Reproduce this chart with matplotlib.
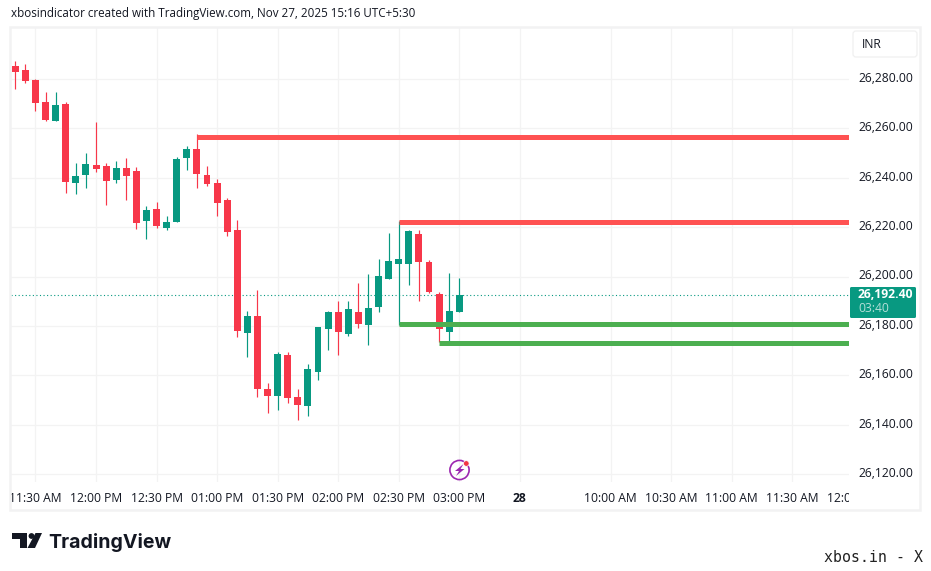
import matplotlib
matplotlib.use('Agg')
import matplotlib.pyplot as plt
from matplotlib.patches import Rectangle, FancyBboxPatch, Polygon, Circle
from matplotlib.transforms import Bbox, ScaledTranslation
import numpy as np

# 5 minute candles
opens = [26285.3, 26283.6, 26279.6, 26270.7, 26263.0, 26269.9, 26237.9, 26241.1, 26245.2,
         26244.8, 26239.1, 26244.0, 26242.7, 26222.5, 26227.4, 26219.7, 26222.1, 26248.0,
         26251.7, 26241.1, 26237.9, 26231.0, 26218.9, 26177.2, 26184.0, 26154.5, 26151.6,
         26168.2, 26151.2, 26147.6, 26161.4, 26178.8, 26185.7, 26176.8, 26185.7, 26180.4,
         26187.7, 26199.0, 26205.1, 26205.1, 26217.2, 26205.9, 26192.9, 26177.6, 26185.7]
highs = [26287.3, 26286.1, 26280.0, 26274.7, 26274.7, 26270.7, 26246.0, 26250.0, 26262.6,
         26246.0, 26246.8, 26248.0, 26244.4, 26228.6, 26230.2, 26224.5, 26248.4, 26252.9,
         26257.7, 26244.8, 26239.5, 26231.8, 26222.9, 26186.1, 26194.6, 26156.9, 26169.5,
         26169.5, 26154.5, 26164.6, 26179.6, 26186.1, 26190.1, 26190.1, 26197.4, 26201.1,
         26207.1, 26217.6, 26222.5, 26218.9, 26218.9, 26206.7, 26193.8, 26201.4, 26199.4]
lows = [26276.0, 26278.4, 26267.0, 26263.0, 26263.0, 26233.8, 26233.4, 26235.9, 26242.3,
        26229.0, 26237.9, 26231.0, 26219.3, 26215.2, 26219.7, 26218.9, 26222.1, 26243.2,
        26235.9, 26236.7, 26224.5, 26216.4, 26175.5, 26167.4, 26151.2, 26144.8, 26146.0,
        26148.8, 26141.9, 26143.6, 26158.1, 26170.3, 26168.2, 26175.9, 26179.2, 26172.3,
        26185.7, 26199.0, 26180.4, 26196.6, 26190.1, 26193.4, 26173.5, 26173.9, 26185.7]
closes = [26282.8, 26279.2, 26270.3, 26263.4, 26269.5, 26238.3, 26240.7, 26245.6, 26243.6,
          26238.7, 26244.0, 26240.7, 26221.7, 26227.0, 26220.5, 26222.1, 26247.6, 26251.7,
          26241.5, 26237.5, 26229.8, 26218.0, 26178.0, 26184.0, 26154.5, 26151.6, 26168.7,
          26150.8, 26148.0, 26162.6, 26179.6, 26185.7, 26177.6, 26186.9, 26180.8, 26187.3,
          26200.2, 26206.3, 26207.1, 26218.5, 26205.9, 26193.8, 26178.8, 26186.1, 26192.4]

last_price = 26192.4

# horizontal levels: price, candle they start from
red_levels = [26256.7, 26222.3]
red_starts = [18, 38]
green_levels = [26180.6, 26173.3]
green_starts = [38, 42]

price_ticks = [26280, 26260, 26240, 26220, 26200, 26180, 26160, 26140, 26120]
time_tick_pos = [2, 8, 14, 20, 26, 32, 38, 44, 50, 59, 65, 71, 77]
time_tick_labels = ['11:30 AM', '12:00 PM', '12:30 PM', '01:00 PM', '01:30 PM', '02:00 PM',
                    '02:30 PM', '03:00 PM', '28', '10:00 AM', '10:30 AM', '11:00 AM',
                    '11:30 AM']
# this one falls past the right edge of the pane and gets cut
cut_tick_pos = 83
cut_tick_label = '12:00 PM'

UP = '#089981'
DOWN = '#F7374A'
GRID = '#F3F3F3'
TEXT = '#131722'
W, H = 931, 571

plt.rcParams['font.family'] = ['Open Sans', 'DejaVu Sans']
plt.rcParams['font.size'] = 8.7

fig = plt.figure(figsize=(W / 100, H / 100), dpi=100, facecolor='white')

# overlay in pixel coordinates for frame, logo and header
bg = fig.add_axes([0, 0, 1, 1], zorder=2)
bg.set_xlim(0, W)
bg.set_ylim(H, 0)
bg.axis('off')
bg.patch.set_alpha(0)
bg.add_patch(Rectangle((10, 27), 910, 483, fill=False, ec='#F2F2F3', lw=1.8))

# price pane, pixel box 11..849 x 28..482
L, R, T, B = 11, 849, 28, 482
ax = fig.add_axes([L / W, 1 - B / H, (R - L) / W, (B - T) / H], zorder=1)
ax.patch.set_alpha(0)
x0, dx = 15.3, 10.09
xlim = ((L - x0) / dx, (R - x0) / dx)
ylim = (26280 - (B - 79) * 0.4049, 26280 + (79 - T) * 0.4049)
for s in ax.spines.values():
    s.set_visible(False)

idx = np.arange(len(opens))
o, h, l, c = map(np.array, (opens, highs, lows, closes))
colors = [UP if cc >= oo else DOWN for oo, cc in zip(o, c)]
ax.vlines(idx, l, h, colors=colors, linewidth=0.85, zorder=3)
ax.bar(idx, np.abs(c - o), bottom=np.minimum(o, c), width=0.69, color=colors, linewidth=0, zorder=4)

ax.axhline(last_price, color=UP, linewidth=0.8, linestyle=(0, (1, 2.2)), zorder=2)

for lev, st in zip(red_levels, red_starts):
    ax.hlines(lev, st, xlim[1], color='#FF5252', linewidth=3.6, zorder=5)
for lev, st in zip(green_levels, green_starts):
    ax.hlines(lev, st, xlim[1], color='#4CAF50', linewidth=3.6, zorder=5)

ax.yaxis.tick_right()
ax.set_yticks(price_ticks)
ax.set_yticklabels([f'{v:,.2f}' for v in price_ticks], color=TEXT)
ax.tick_params(axis='y', length=0, pad=6.5)
ax.set_xticks(time_tick_pos)
ax.set_xticklabels(time_tick_labels, color=TEXT)
ax.tick_params(axis='x', length=0, pad=7.3)
ax.grid(True, color=GRID, linewidth=0.9, zorder=0)
ax.set_axisbelow(True)

ax.set_xlim(*xlim)
ax.set_ylim(*ylim)

# price labels sit a touch above their grid line
nudge = ScaledTranslation(0, 1.5 / 72, fig.dpi_scale_trans)
for lab in ax.get_yticklabels():
    lab.set_transform(lab.get_transform() + nudge)

for lab, txt in zip(ax.get_xticklabels(), time_tick_labels):
    if txt == '28':
        lab.set_fontweight('bold')

cut = ax.annotate(cut_tick_label, xy=(cut_tick_pos, ylim[0]), xytext=(0, -7.3), textcoords='offset points',
                  ha='center', va='top', color=TEXT, annotation_clip=False)
cut.set_clip_path(None)
cut.set_clip_box(Bbox.from_extents(0, 0, R, H))
cut.set_clip_on(True)

# header
bg.text(11, 14, 'xbosindicator created with TradingView.com, Nov 27, 2025 15:16 UTC+5:30',
        color=TEXT, fontsize=8.4, va='center', ha='left')

# currency box
bg.add_patch(FancyBboxPatch((855, 33), 60, 22, boxstyle='round,pad=2,rounding_size=3',
                            fc='white', ec='#F0F0F0', lw=0.9))
bg.text(862, 44, 'INR', color=TEXT, fontsize=8.7, va='center', ha='left')

# last price label
bg.add_patch(FancyBboxPatch((851, 288), 64, 29, boxstyle='round,pad=1,rounding_size=1.5',
                            fc=UP, ec=UP, lw=0, zorder=6))
bg.text(858, 295, f'{last_price:,.2f}', color='white', fontsize=8.7, fontweight='bold',
        va='center', ha='left', zorder=7)
bg.text(858, 309, '03:40', color='#B5DFD8', fontsize=8.7, va='center', ha='left', zorder=7)

# bolt icon under the last candle
bg.add_patch(Circle((459.5, 470), 9.6, fill=False, ec='#9C27B0', lw=1.2))
bg.add_patch(Polygon([(463.5, 464), (455, 471), (459, 471), (456, 476), (464.5, 469), (460.5, 469)],
                     closed=True, fc='#9C27B0', ec='none'))
bg.add_patch(Circle((466.3, 463.5), 2.8, fc='#F23645', ec='white', lw=0.5, zorder=5))

# TradingView logo
mark = '#131722'
bg.add_patch(Polygon([(12, 533), (27, 533), (27, 548), (19.5, 548), (19.5, 539), (12, 539)],
                     closed=True, fc=mark, ec='none'))
bg.add_patch(Circle((31.5, 536), 2.9, fc=mark, ec='none'))
bg.add_patch(Polygon([(35.5, 533), (42, 533), (35, 548), (27.5, 548)], closed=True, fc=mark, ec='none'))
bg.text(48, 542, 'TradingView', color=mark, fontsize=14.1, fontweight='bold', va='center', ha='left',
        family=['Inter', 'DejaVu Sans'])

bg.text(824, 557, 'xbos.in - X', color='#222222', fontsize=10.7, va='center', ha='left',
        family=['DejaVu Sans Mono'])

fig.savefig('out.png', dpi=100, facecolor='white')
